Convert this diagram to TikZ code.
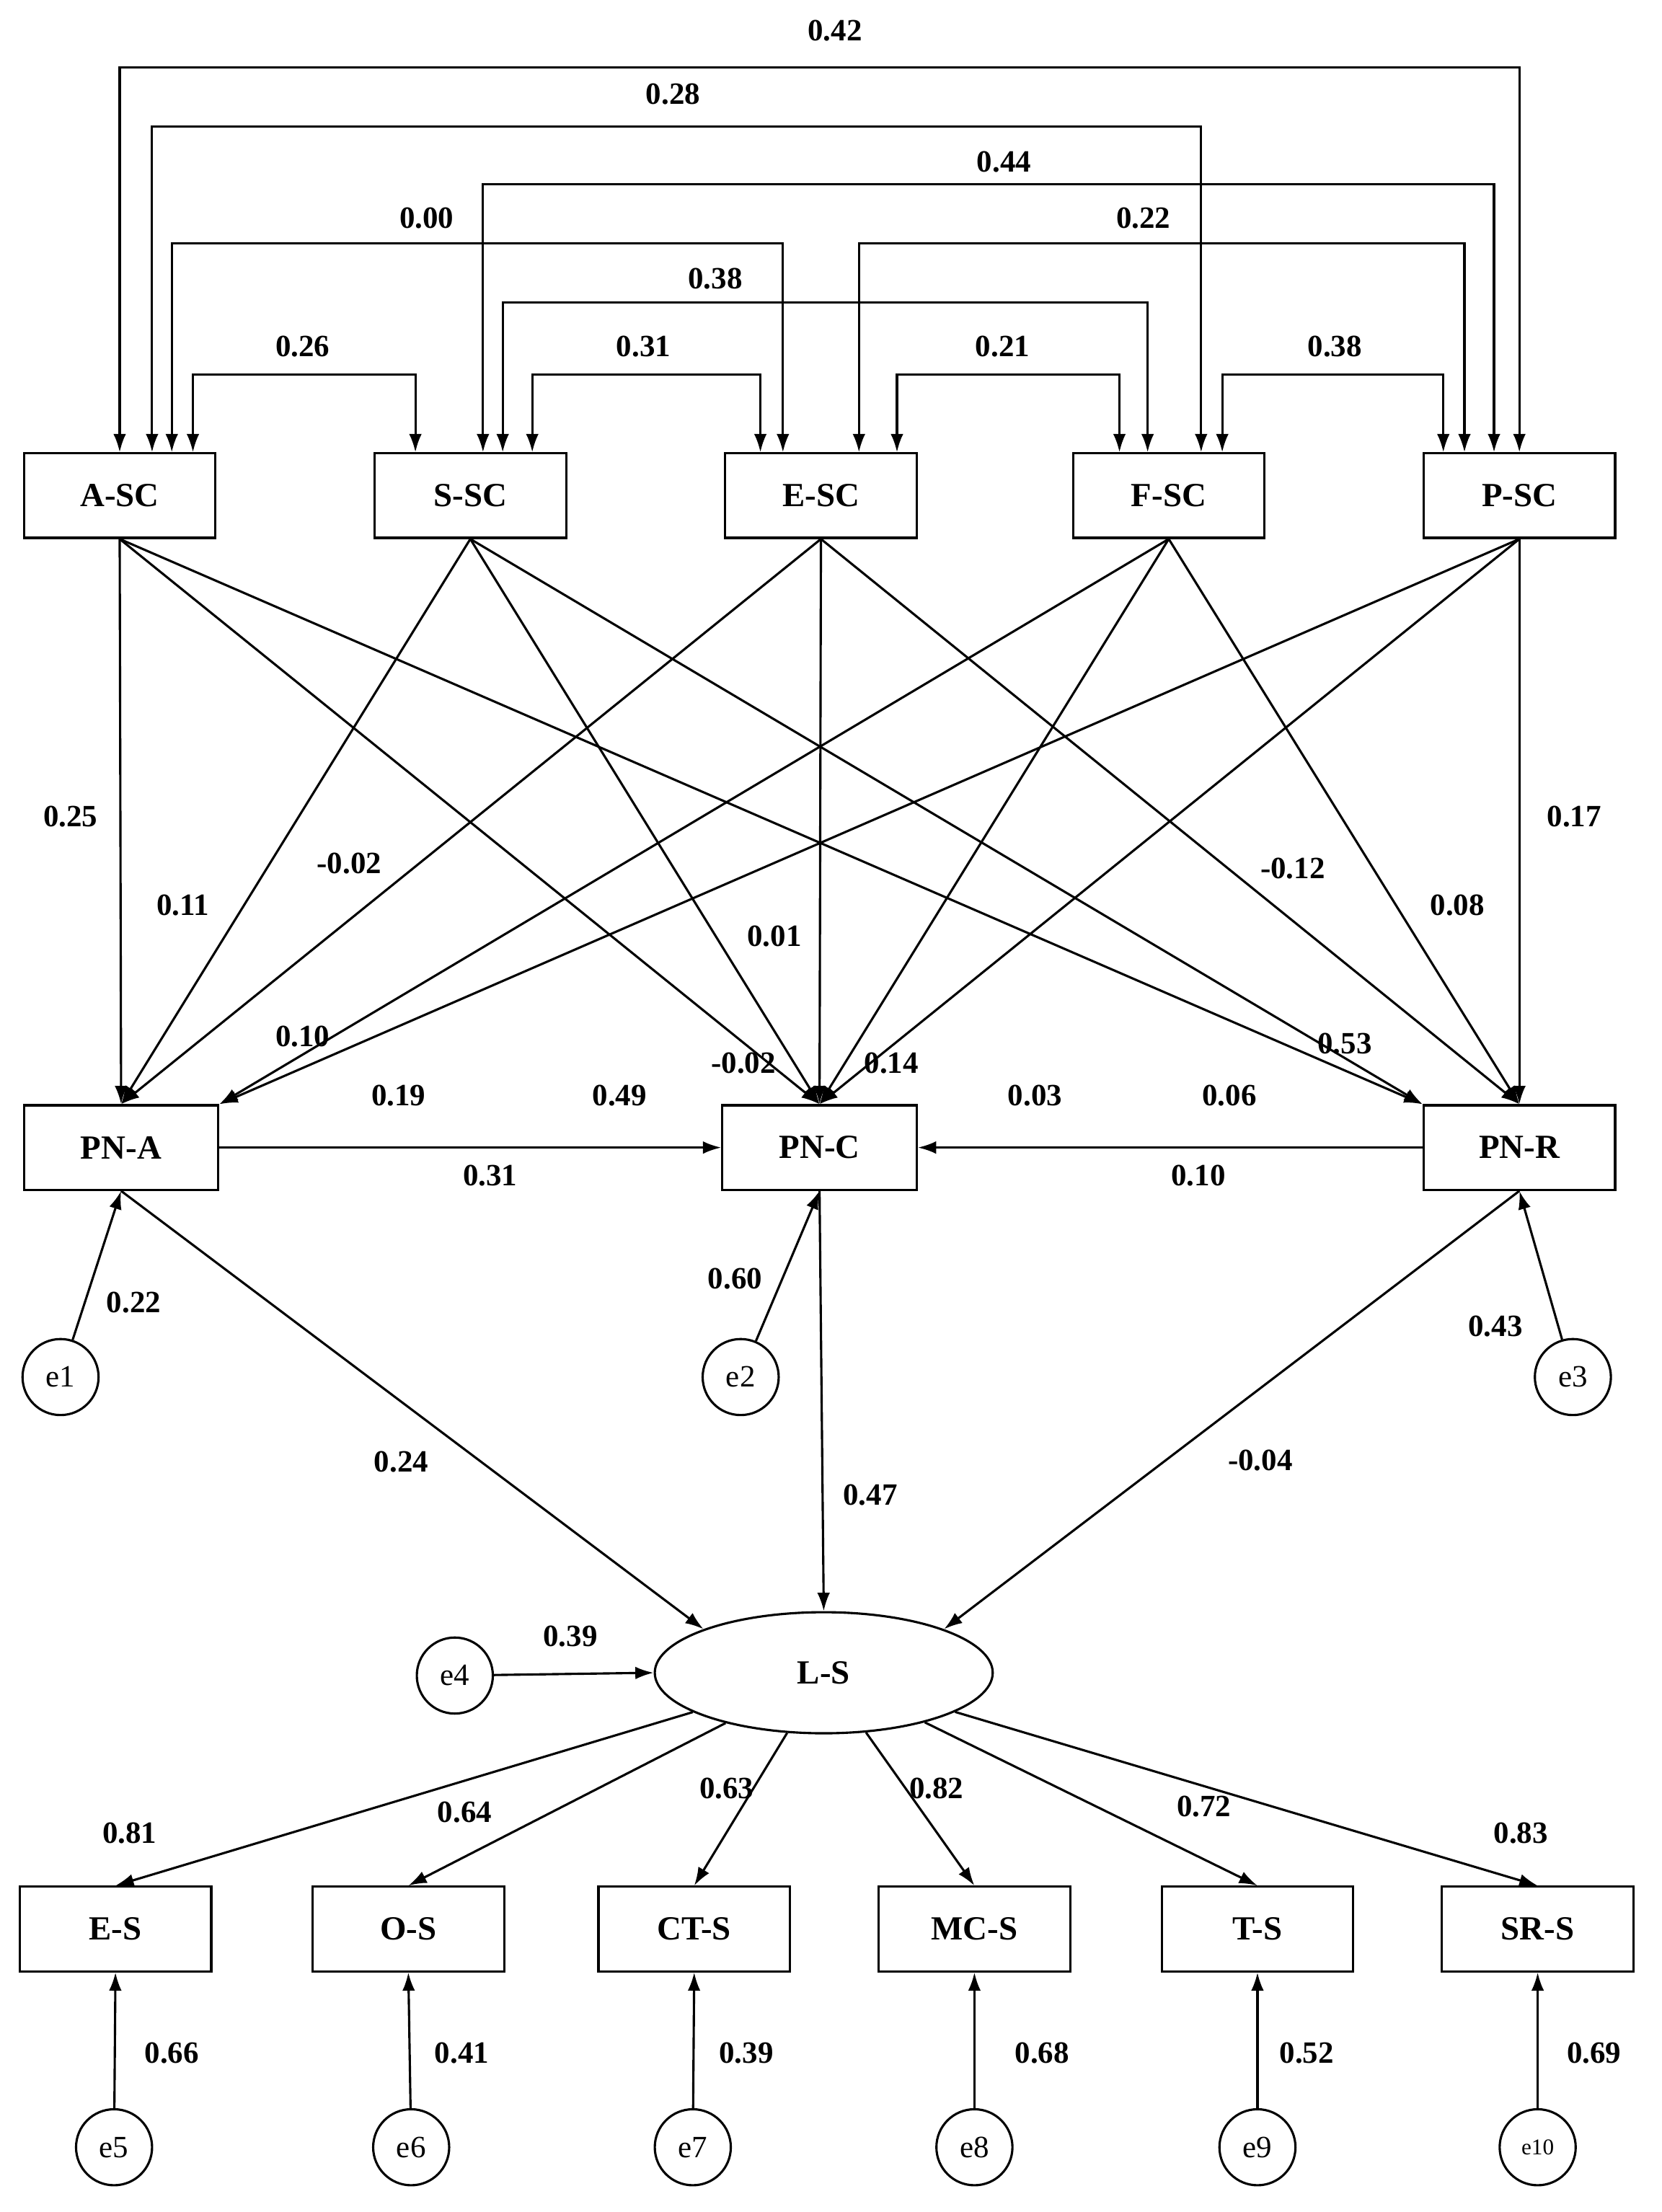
\documentclass[tikz,border=0pt]{standalone}
\usepackage{fontspec}
\setmainfont{Liberation Serif}
\usetikzlibrary{arrows.meta,shapes.geometric}
\begin{document}
\begin{tikzpicture}[x=1pt,y=-1pt,
  box/.style={draw,line width=1.6pt,minimum width=136pt,minimum height=60pt,inner sep=0pt,font=\fontsize{24}{28}\selectfont\bfseries},
  err/.style={draw,circle,line width=1.6pt,minimum size=54pt,inner sep=0pt,font=\fontsize{22}{26}\selectfont},
  lab/.style={font=\fontsize{22}{26}\selectfont\bfseries},
  ar/.style={line width=1.6pt,-{Latex[length=13pt,width=9pt]}},
  dar/.style={line width=1.6pt,{Latex[length=13pt,width=9pt]}-{Latex[length=13pt,width=9pt]}}]
\useasboundingbox (0,0) rectangle (1180,1571);
\node[box] (A) at (85,352) {A-SC};
\node[box] (S) at (334,352) {S-SC};
\node[box] (E) at (583,352) {E-SC};
\node[box] (F) at (830,352) {F-SC};
\node[box] (P) at (1079,352) {P-SC};
\node[box,minimum width=138pt] (PA) at (86,815) {PN-A};
\node[box,minimum width=138pt] (PC) at (582,815) {PN-C};
\node[box] (PR) at (1079,815) {PN-R};
\node[err] (e1) at (43,978) {e1};
\node[err] (e2) at (526,978) {e2};
\node[err] (e3) at (1117,978) {e3};
\node[draw,ellipse,line width=1.6pt,minimum width=240pt,minimum height=86pt,font=\fontsize{24}{28}\selectfont\bfseries] (LS) at (585,1188) {L-S};
\node[err] (e4) at (323,1190) {e4};
\foreach \n/\t/\x in {b1/E-S/82,b2/O-S/290,b3/CT-S/493,b4/MC-S/692,b5/T-S/893,b6/SR-S/1092}
  \node[box] (\n) at (\x,1370) {\t};
\foreach \n/\x/\t in {f1/81/e5,f2/292/e6,f3/492/e7,f4/692/e8,f5/893/e9}
  \node[err] (\n) at (\x,1525) {\t};
\node[err,font=\fontsize{16}{20}\selectfont] (f6) at (1092,1525) {e10};
% covariances
\foreach \xa/\xb/\yy/\na/\nb in {85/1079/48/A/P,108/853/90/A/F,343/1061/131/S/P,122/556/173/A/E,610/1040/173/E/P,357/815/215/S/F,137/295/266/A/S,378/540/266/S/E,637/795/266/E/F,868/1025/266/F/P}
  \draw[dar] (\na.north -| \xa,0) -- (\xa,\yy) -- (\xb,\yy) -- (\nb.north -| \xb,0);
\foreach \t/\x/\y in {0.42/593/22,0.28/478/67,0.44/713/115,0.00/303/155,0.22/812/155,0.38/508/198,0.26/215/246,0.31/457/246,0.21/712/246,0.38/948/246}
  \node[lab] at (\x,\y) {\t};
% paths
\foreach \s in {A,S,E} \draw[ar] (\s.south) -- (PA.north);
\foreach \s in {F,P} \draw[ar] (\s.south) -- (PA.north east);
\foreach \s in {A,S,E,F,P} \draw[ar] (\s.south) -- (PC.north);
\foreach \s in {A,S} \draw[ar] (\s.south) -- (PR.north west);
\foreach \s in {E,F,P} \draw[ar] (\s.south) -- (PR.north);
\draw[ar] (PA.east) -- (PC.west);
\draw[ar] (PR.west) -- (PC.east);
\foreach \t/\x/\y in {0.25/50/580,0.11/130/643,-0.02/248/613,0.01/550/665,0.10/215/736,0.19/283/778,0.49/440/778,-0.02/528/755,0.14/633/755,0.03/735/778,0.06/873/778,0.53/955/741,-0.12/918/617,0.08/1035/643,0.17/1118/580,0.31/348/835,0.10/851/835}
  \node[lab] at (\x,\y) {\t};
\draw[ar] (e1) -- (PA.south);
\draw[ar] (e2) -- (PC.south);
\draw[ar] (e3) -- (PR.south);
\draw[ar] (PA.south) -- (LS.north west);
\draw[ar] (PC.south) -- (LS.north);
\draw[ar] (PR.south) -- (LS.north east);
\draw[ar] (e4) -- (LS.west);
\foreach \b in {b1,b2,b3,b4,b5,b6} \draw[ar] (LS) -- (\b.north);
\foreach \i in {1,...,6} \draw[ar] (f\i) -- (b\i.south);
\foreach \t/\x/\y in {0.22/95/925,0.60/522/908,0.43/1062/942,0.24/285/1038,0.47/618/1062,-0.04/895/1037,0.39/405/1162,0.81/92/1302,0.64/330/1287,0.63/516/1270,0.82/665/1270,0.72/855/1283,0.83/1080/1302,0.66/122/1458,0.41/328/1458,0.39/530/1458,0.68/740/1458,0.52/928/1458,0.69/1132/1458}
  \node[lab] at (\x,\y) {\t};
\end{tikzpicture}
\end{document}
